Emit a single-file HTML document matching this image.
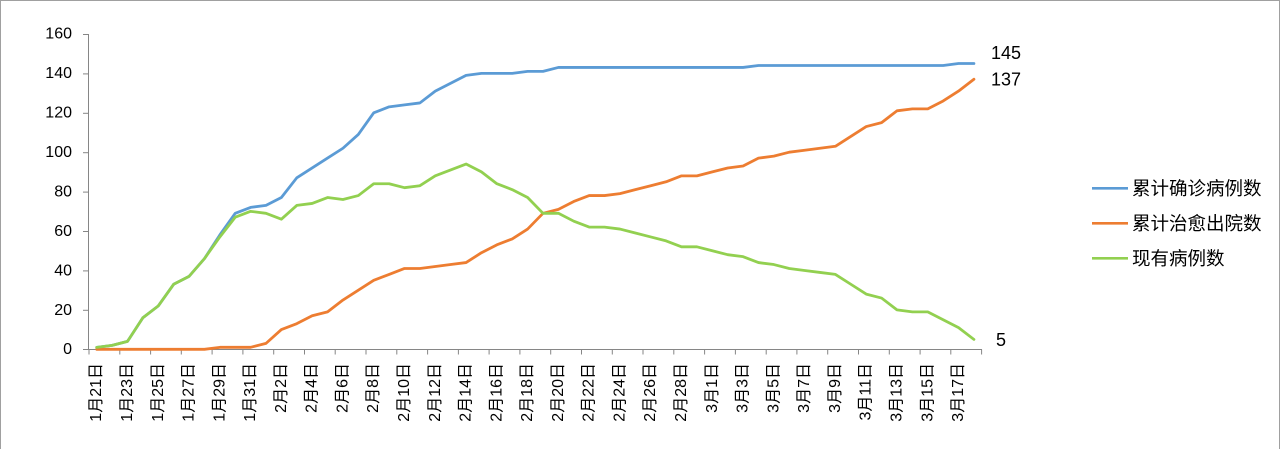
<!DOCTYPE html>
<html><head><meta charset="utf-8">
<style>
html,body{margin:0;padding:0;background:#fff;}
body{width:1280px;height:449px;overflow:hidden;position:relative;}
svg{position:absolute;left:0;top:0;}
text{font-family:"Liberation Sans","Noto Sans CJK SC",sans-serif;fill:#000;}
</style></head><body>
<svg width="1280" height="449" viewBox="0 0 1280 449" xmlns="http://www.w3.org/2000/svg">
<rect x="0" y="0" width="1280" height="449" fill="#fff"/>
<!-- outer border -->
<line x1="0.5" y1="0" x2="0.5" y2="449" stroke="#a0a0a0" stroke-width="1"/>
<line x1="1279.5" y1="0" x2="1279.5" y2="449" stroke="#a0a0a0" stroke-width="1"/>
<line x1="0" y1="0.5" x2="1280" y2="0.5" stroke="#a0a0a0" stroke-width="1"/>

<!-- axes -->
<g stroke="#868686" stroke-width="1" fill="none">
<line x1="88.5" y1="34" x2="88.5" y2="349.5"/>
<line x1="88.5" y1="349.5" x2="982" y2="349.5"/>
<line x1="83" y1="34.5" x2="88.5" y2="34.5"/>
<line x1="83" y1="73.9" x2="88.5" y2="73.9"/>
<line x1="83" y1="113.3" x2="88.5" y2="113.3"/>
<line x1="83" y1="152.7" x2="88.5" y2="152.7"/>
<line x1="83" y1="192.1" x2="88.5" y2="192.1"/>
<line x1="83" y1="231.5" x2="88.5" y2="231.5"/>
<line x1="83" y1="270.9" x2="88.5" y2="270.9"/>
<line x1="83" y1="310.3" x2="88.5" y2="310.3"/>
<line x1="83" y1="349.5" x2="88.5" y2="349.5"/>
<path d="M89,349.5v5 M119.8,349.5v5 M150.6,349.5v5 M181.3,349.5v5 M212.1,349.5v5 M242.9,349.5v5 M273.7,349.5v5 M304.5,349.5v5 M335.2,349.5v5 M366,349.5v5 M396.8,349.5v5 M427.6,349.5v5 M458.4,349.5v5 M489.1,349.5v5 M519.9,349.5v5 M550.7,349.5v5 M581.5,349.5v5 M612.3,349.5v5 M643,349.5v5 M673.8,349.5v5 M704.6,349.5v5 M735.4,349.5v5 M766.2,349.5v5 M796.9,349.5v5 M827.7,349.5v5 M858.5,349.5v5 M889.3,349.5v5 M920.1,349.5v5 M950.8,349.5v5 M981.6,349.5v5"/>
</g>

<!-- y labels -->
<g font-size="16" text-anchor="end" dominant-baseline="central">
<text x="72" y="34">160</text>
<text x="72" y="73.5">140</text>
<text x="72" y="113">120</text>
<text x="72" y="152.5">100</text>
<text x="72" y="192">80</text>
<text x="72" y="231.5">60</text>
<text x="72" y="271">40</text>
<text x="72" y="310.5">20</text>
<text x="72" y="349.5">0</text>
</g>

<!-- x labels -->
<g font-size="16" text-anchor="end" dominant-baseline="central">
<text transform="translate(96.7,363) rotate(-90)">1月21日</text>
<text transform="translate(127.5,363) rotate(-90)">1月23日</text>
<text transform="translate(158.3,363) rotate(-90)">1月25日</text>
<text transform="translate(189.0,363) rotate(-90)">1月27日</text>
<text transform="translate(219.8,363) rotate(-90)">1月29日</text>
<text transform="translate(250.6,363) rotate(-90)">1月31日</text>
<text transform="translate(281.4,363) rotate(-90)">2月2日</text>
<text transform="translate(312.2,363) rotate(-90)">2月4日</text>
<text transform="translate(342.9,363) rotate(-90)">2月6日</text>
<text transform="translate(373.7,363) rotate(-90)">2月8日</text>
<text transform="translate(404.5,363) rotate(-90)">2月10日</text>
<text transform="translate(435.3,363) rotate(-90)">2月12日</text>
<text transform="translate(466.1,363) rotate(-90)">2月14日</text>
<text transform="translate(496.8,363) rotate(-90)">2月16日</text>
<text transform="translate(527.6,363) rotate(-90)">2月18日</text>
<text transform="translate(558.4,363) rotate(-90)">2月20日</text>
<text transform="translate(589.2,363) rotate(-90)">2月22日</text>
<text transform="translate(620.0,363) rotate(-90)">2月24日</text>
<text transform="translate(650.7,363) rotate(-90)">2月26日</text>
<text transform="translate(681.5,363) rotate(-90)">2月28日</text>
<text transform="translate(712.3,363) rotate(-90)">3月1日</text>
<text transform="translate(743.1,363) rotate(-90)">3月3日</text>
<text transform="translate(773.9,363) rotate(-90)">3月5日</text>
<text transform="translate(804.6,363) rotate(-90)">3月7日</text>
<text transform="translate(835.4,363) rotate(-90)">3月9日</text>
<text transform="translate(866.2,363) rotate(-90)">3月11日</text>
<text transform="translate(897.0,363) rotate(-90)">3月13日</text>
<text transform="translate(927.8,363) rotate(-90)">3月15日</text>
<text transform="translate(958.5,363) rotate(-90)">3月17日</text>
</g>

<!-- series -->
<g transform="translate(96.7,349.3) scale(15.39,-1.971)" fill="none" stroke-linejoin="round" stroke-linecap="round">
<polyline vector-effect="non-scaling-stroke" stroke="#5B9BD5" stroke-width="2.8"
points="0,1 1,2 2,4 3,16 4,22 5,33 6,37 7,46 8,58 9,69 10,72 11,73 12,77 13,87 14,92 15,97 16,102 17,109 18,120 19,123 20,124 21,125 22,131 23,135 24,139 25,140 26,140 27,140 28,141 29,141 30,143 31,143 32,143 33,143 34,143 35,143 36,143 37,143 38,143 39,143 40,143 41,143 42,143 43,144 44,144 45,144 46,144 47,144 48,144 49,144 50,144 51,144 52,144 53,144 54,144 55,144 56,145 57,145"/>
<polyline vector-effect="non-scaling-stroke" stroke="#ED7D31" stroke-width="2.8"
points="0,0 1,0 2,0 3,0 4,0 5,0 6,0 7,0 8,1 9,1 10,1 11,3 12,10 13,13 14,17 15,19 16,25 17,30 18,35 19,38 20,41 21,41 22,42 23,43 24,44 25,49 26,53 27,56 28,61 29,69 30,71 31,75 32,78 33,78 34,79 35,81 36,83 37,85 38,88 39,88 40,90 41,92 42,93 43,97 44,98 45,100 46,101 47,102 48,103 49,108 50,113 51,115 52,121 53,122 54,122 55,126 56,131 57,137"/>
<polyline vector-effect="non-scaling-stroke" stroke="#92D050" stroke-width="2.8"
points="0,1 1,2 2,4 3,16 4,22 5,33 6,37 7,46 8,57 9,67 10,70 11,69 12,66 13,73 14,74 15,77 16,76 17,78 18,84 19,84 20,82 21,83 22,88 23,91 24,94 25,90 26,84 27,81 28,77 29,69 30,69 31,65 32,62 33,62 34,61 35,59 36,57 37,55 38,52 39,52 40,50 41,48 42,47 43,44 44,43 45,41 46,40 47,39 48,38 49,33 50,28 51,26 52,20 53,19 54,19 55,15 56,11 57,5"/>
</g>

<!-- data labels -->
<g font-size="18" dominant-baseline="central">
<text x="991" y="53">145</text>
<text x="991" y="79.5">137</text>
<text x="996" y="340">5</text>
</g>

<!-- legend -->
<g stroke-width="2.6">
<line x1="1092" y1="188.3" x2="1128" y2="188.3" stroke="#5B9BD5"/>
<line x1="1092" y1="223.3" x2="1128" y2="223.3" stroke="#ED7D31"/>
<line x1="1092" y1="258.3" x2="1128" y2="258.3" stroke="#92D050"/>
</g>
<g font-size="18.5" dominant-baseline="central">
<text x="1132" y="188.5">累计确诊病例数</text>
<text x="1132" y="223.5">累计治愈出院数</text>
<text x="1132" y="258.5">现有病例数</text>
</g>
</svg>
</body></html>
